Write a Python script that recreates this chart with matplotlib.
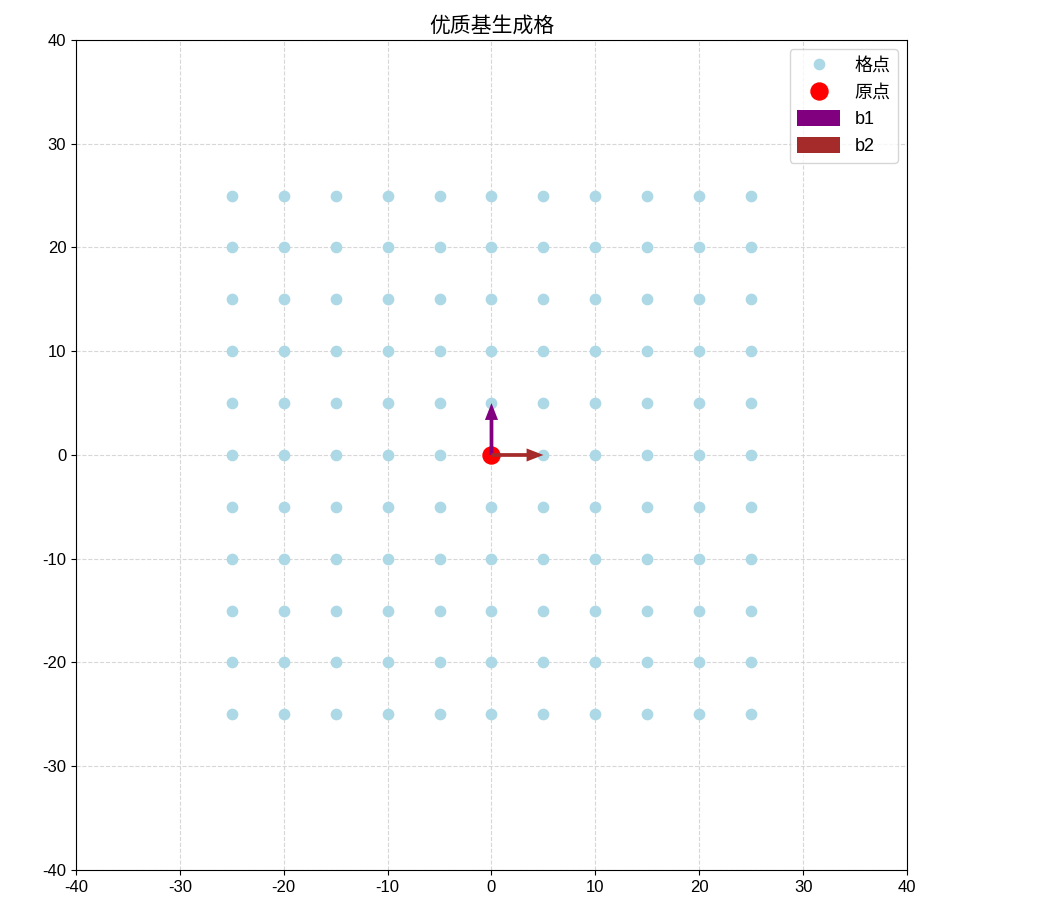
import numpy as np
import matplotlib.pyplot as plt

plt.rcParams['font.family'] = ['Liberation Sans', 'Noto Sans CJK SC']
plt.rcParams['axes.unicode_minus'] = False

# lattice coordinates and basis vectors
coords = [-25, -20, -15, -10, -5, 0, 5, 10, 15, 20, 25]
b1 = [0, 5]
b2 = [5, 0]
origin = [0, 0]

xx, yy = np.meshgrid(coords, coords)

fig = plt.figure(figsize=(10.37, 9.15), dpi=100)
ax = fig.add_axes([0.0733, 0.0492, 0.8013, 0.9071])

ax.scatter(xx.ravel(), yy.ravel(), color="lightblue", s=55, label="格点", zorder=2)
ax.scatter(origin[0], origin[1], color="red", s=150, label="原点", zorder=3)
ax.quiver(origin[0], origin[1], b1[0], b1[1], angles="xy", scale_units="xy", scale=1,
          color="purple", width=0.0045, headwidth=3.5, headlength=4.5, label="b1", zorder=4)
ax.quiver(origin[0], origin[1], b2[0], b2[1], angles="xy", scale_units="xy", scale=1,
          color="brown", width=0.0045, headwidth=3.5, headlength=4.5, label="b2", zorder=4)

ax.set_xlim(-40, 40)
ax.set_ylim(-40, 40)
ax.set_xticks(np.arange(-40, 41, 10))
ax.set_yticks(np.arange(-40, 41, 10))
ax.tick_params(labelsize=12)
ax.grid(True, linestyle="--", color="lightgray", alpha=0.9)
ax.set_axisbelow(True)
ax.set_title("优质基生成格", fontsize=15)
ax.legend(loc="upper right", fontsize=13, handlelength=2.4, handleheight=0.95)

fig.savefig("out.png")
